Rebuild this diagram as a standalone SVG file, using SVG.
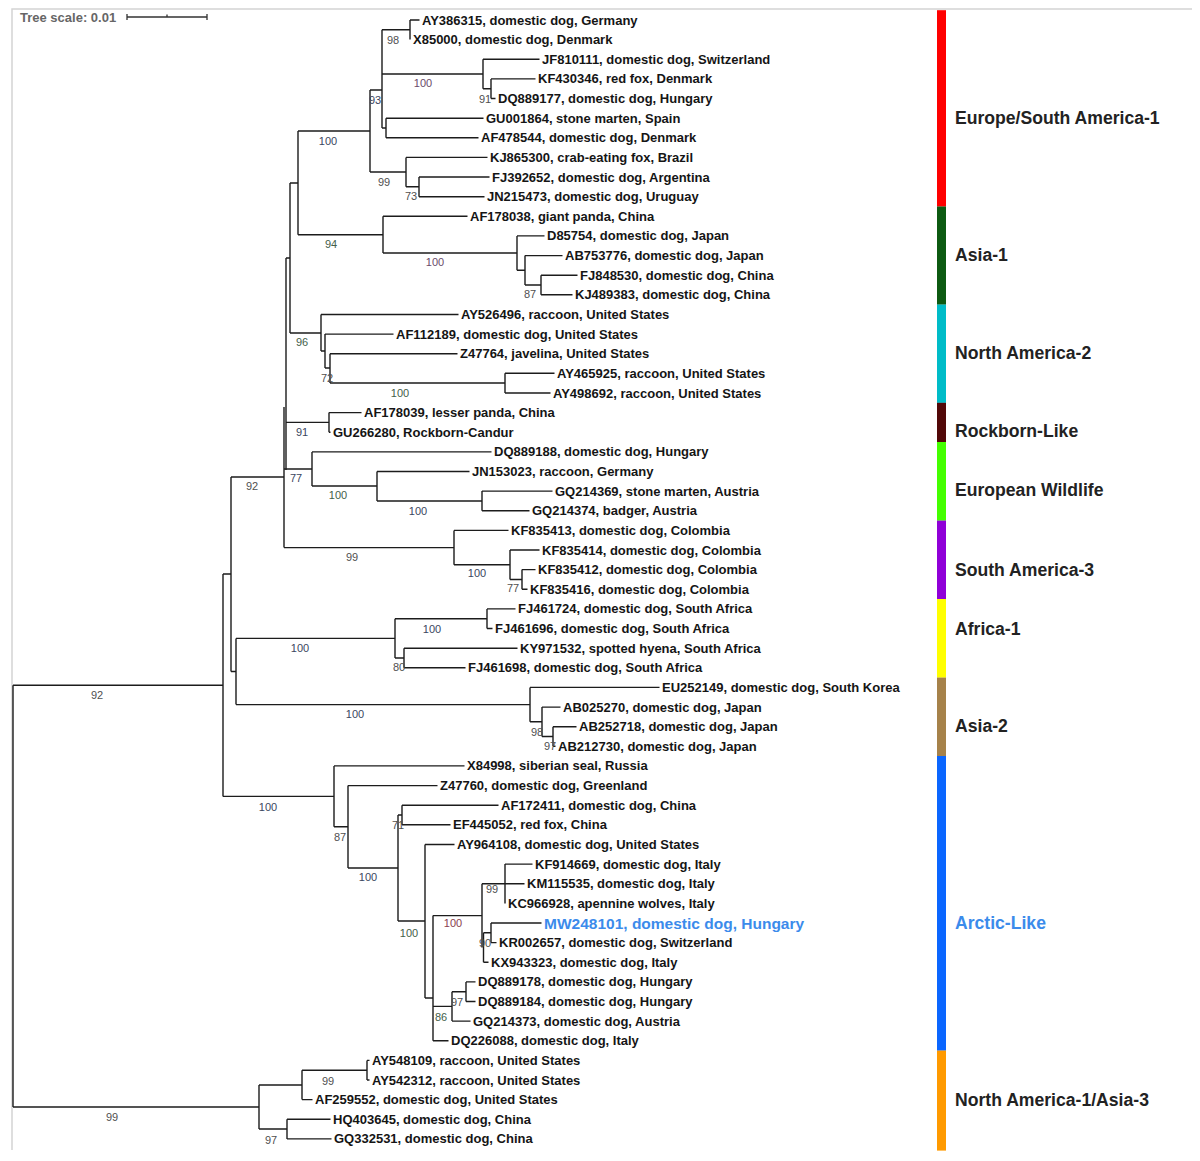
<svg xmlns="http://www.w3.org/2000/svg" width="1200" height="1161" viewBox="0 0 1200 1161">
<style>
.br{fill:none;stroke:#1c1c1c;stroke-width:1.4}
.lf{font-family:"Liberation Sans",Arial,sans-serif;font-size:13px;font-weight:bold;fill:#151515}
.hl{font-family:"Liberation Sans",Arial,sans-serif;font-size:15.5px;font-weight:bold;fill:#3b8beb}
.bs{font-family:"Liberation Sans",Arial,sans-serif;font-size:11px;fill:#505050;text-anchor:middle}
.g{fill:#44604a}.p{fill:#6a4a6a}.b{fill:#3a4660}.r{fill:#8a4050}
.cl{font-family:"Liberation Sans",Arial,sans-serif;font-size:17.6px;font-weight:bold;fill:#222}
.frame{stroke:#d4d4d4;stroke-width:1.5;fill:none}
</style>
<rect width="1200" height="1161" fill="#fff"/>
<path class="frame" d="M12,1150 V9 H1192"/>
<g id="scale">
<text x="20" y="21.5" style="font-family:'Liberation Sans',Arial,sans-serif;font-size:13px;font-weight:bold;fill:#666">Tree scale: 0.01</text>
<path d="M127,17 H207 M127,14 V20 M207,14 V20 M167,14.5 V17" stroke="#333" stroke-width="1.3" fill="none"/>
</g>
<g id="connectors" class="br">
<path d="M410,20 V39.6 M410,20 H419.5"/>
<path d="M491,78.9 V98.5 M491,78.9 H535.5 M491,98.5 H495.5"/>
<path d="M483,59.3 V88.7 M483,59.3 H539.5 M483,88.7 H491"/>
<path d="M386,118.2 V137.8 M386,118.2 H483.5 M386,137.8 H478.5"/>
<path d="M382,29.8 V128 M382,29.8 H410 M382,74 H483 M382,128 H386"/>
<path d="M419,177 V196.7 M419,177 H489.5 M419,196.7 H484.5"/>
<path d="M406,157.4 V186.8 M406,157.4 H487.5 M406,186.8 H419"/>
<path d="M370,90 V172 M370,90 H382 M370,172 H406"/>
<path d="M541,275.2 V294.8 M541,275.2 H577.5 M541,294.8 H572.5"/>
<path d="M525,255.6 V285 M525,255.6 H562.5 M525,285 H541"/>
<path d="M517,235.9 V270.3 M517,235.9 H544.5 M517,270.3 H525"/>
<path d="M383,216.3 V253 M383,216.3 H467.5 M383,253 H517"/>
<path d="M298,131 V234.7 M298,131 H370 M298,234.7 H383"/>
<path d="M505,373.3 V393 M505,373.3 H554.5 M505,393 H550.5"/>
<path d="M330,353.7 V383 M330,353.7 H457.5 M330,383 H505"/>
<path d="M325,334.1 V368 M325,334.1 H393.5 M325,368 H330"/>
<path d="M321,314.5 V351 M321,314.5 H458.5 M321,351 H325"/>
<path d="M290,183 V333 M290,183 H298 M290,333 H321"/>
<path d="M329,412.6 V432.2 M329,412.6 H361.5 M329,432.2 H330.5"/>
<path d="M482,491.1 V510.8 M482,491.1 H552.5 M482,510.8 H529.5"/>
<path d="M377,471.5 V501 M377,471.5 H469.5 M377,501 H482"/>
<path d="M312,451.9 V486 M312,451.9 H491.5 M312,486 H377"/>
<path d="M522,569.6 V589.3 M522,569.6 H535.5 M522,589.3 H527.5"/>
<path d="M510,550 V579.5 M510,550 H539.5 M510,579.5 H522"/>
<path d="M454,530.4 V564.7 M454,530.4 H508.5 M454,564.7 H510"/>
<path d="M286,258 V470 M286,258 H290 M286,422.4 H329"/>
<path d="M284,407 V547.6 M284,469 H312 M284,547.6 H454"/>
<path d="M487,608.9 V628.5 M487,608.9 H515.5 M487,628.5 H492.5"/>
<path d="M404,648.2 V667.8 M404,648.2 H517.5 M404,667.8 H465.5"/>
<path d="M395,618.7 V658 M395,618.7 H487 M395,658 H404"/>
<path d="M553,726.7 V746.3 M553,726.7 H576.5 M553,746.3 H555.5"/>
<path d="M542,707.1 V736.5 M542,707.1 H560.5 M542,736.5 H553"/>
<path d="M530,687.4 V721.8 M530,687.4 H659.5 M530,721.8 H542"/>
<path d="M236,638.4 V704.6 M236,638.4 H395 M236,704.6 H530"/>
<path d="M231,477 V671.5 M231,477 H284 M231,671.5 H236"/>
<path d="M402,805.2 V824.8 M402,805.2 H498.5 M402,824.8 H450.5"/>
<path d="M505,864.1 V903.4 M505,864.1 H532.5 M505,883.7 H524.5"/>
<path d="M491,923 V942.6 M491,923 H541.5 M491,942.6 H496.5"/>
<path d="M483.5,932.8 V962.2 M483.5,932.8 H491 M483.5,962.2 H488.5"/>
<path d="M482,883.7 V947.5 M482,883.7 H505"/>
<path d="M466,981.9 V1001.5 M466,981.9 H475.5 M466,1001.5 H475.5"/>
<path d="M452,991.7 V1021.1 M452,991.7 H466 M452,1021.1 H470.5"/>
<path d="M433,915.6 V1040.8 M433,915.6 H482 M433,1006.4 H452 M433,1040.8 H448.5"/>
<path d="M425,844.5 V998 M425,844.5 H454.5 M425,998 H433"/>
<path d="M398,815 V921 M398,815 H402 M398,921 H425"/>
<path d="M348,785.6 V868 M348,785.6 H437.5 M348,868 H398"/>
<path d="M334,765.9 V826.8 M334,765.9 H464.5 M334,826.8 H348"/>
<path d="M223,574 V796.4 M223,574 H231 M223,796.4 H334"/>
<path d="M367,1060.4 V1080 M367,1060.4 H369.5 M367,1080 H369.5"/>
<path d="M302,1070.2 V1099.6 M302,1070.2 H367 M302,1099.6 H312.5"/>
<path d="M287,1119.3 V1138.9 M287,1119.3 H330.5 M287,1138.9 H331.5"/>
<path d="M259,1085 V1129 M259,1085 H302 M259,1129 H287"/>
<path d="M13,685.2 V1107 M13,685.2 H223 M13,1107 H259"/>
</g>
<g id="leaves">
<g id="n1"><text class="lf" x="422" y="24.5">AY386315, domestic dog, Germany</text></g>
<g id="n2"><text class="lf" x="413" y="44.1">X85000, domestic dog, Denmark</text></g>
<g id="n3"><text class="lf" x="542" y="63.8">JF810111, domestic dog, Switzerland</text></g>
<g id="n4"><text class="lf" x="538" y="83.4">KF430346, red fox, Denmark</text></g>
<g id="n5"><text class="lf" x="498" y="103">DQ889177, domestic dog, Hungary</text></g>
<g id="n6"><text class="lf" x="486" y="122.7">GU001864, stone marten, Spain</text></g>
<g id="n7"><text class="lf" x="481" y="142.3">AF478544, domestic dog, Denmark</text></g>
<g id="n8"><text class="lf" x="490" y="161.9">KJ865300, crab-eating fox, Brazil</text></g>
<g id="n9"><text class="lf" x="492" y="181.5">FJ392652, domestic dog, Argentina</text></g>
<g id="n10"><text class="lf" x="487" y="201.2">JN215473, domestic dog, Uruguay</text></g>
<g id="n11"><text class="lf" x="470" y="220.8">AF178038, giant panda, China</text></g>
<g id="n12"><text class="lf" x="547" y="240.4">D85754, domestic dog, Japan</text></g>
<g id="n13"><text class="lf" x="565" y="260.1">AB753776, domestic dog, Japan</text></g>
<g id="n14"><text class="lf" x="580" y="279.7">FJ848530, domestic dog, China</text></g>
<g id="n15"><text class="lf" x="575" y="299.3">KJ489383, domestic dog, China</text></g>
<g id="n16"><text class="lf" x="461" y="319">AY526496, raccoon, United States</text></g>
<g id="n17"><text class="lf" x="396" y="338.6">AF112189, domestic dog, United States</text></g>
<g id="n18"><text class="lf" x="460" y="358.2">Z47764, javelina, United States</text></g>
<g id="n19"><text class="lf" x="557" y="377.8">AY465925, raccoon, United States</text></g>
<g id="n20"><text class="lf" x="553" y="397.5">AY498692, raccoon, United States</text></g>
<g id="n21"><text class="lf" x="364" y="417.1">AF178039, lesser panda, China</text></g>
<g id="n22"><text class="lf" x="333" y="436.7">GU266280, Rockborn-Candur</text></g>
<g id="n23"><text class="lf" x="494" y="456.4">DQ889188, domestic dog, Hungary</text></g>
<g id="n24"><text class="lf" x="472" y="476">JN153023, raccoon, Germany</text></g>
<g id="n25"><text class="lf" x="555" y="495.6">GQ214369, stone marten, Austria</text></g>
<g id="n26"><text class="lf" x="532" y="515.3">GQ214374, badger, Austria</text></g>
<g id="n27"><text class="lf" x="511" y="534.9">KF835413, domestic dog, Colombia</text></g>
<g id="n28"><text class="lf" x="542" y="554.5">KF835414, domestic dog, Colombia</text></g>
<g id="n29"><text class="lf" x="538" y="574.1">KF835412, domestic dog, Colombia</text></g>
<g id="n30"><text class="lf" x="530" y="593.8">KF835416, domestic dog, Colombia</text></g>
<g id="n31"><text class="lf" x="518" y="613.4">FJ461724, domestic dog, South Africa</text></g>
<g id="n32"><text class="lf" x="495" y="633">FJ461696, domestic dog, South Africa</text></g>
<g id="n33"><text class="lf" x="520" y="652.7">KY971532, spotted hyena, South Africa</text></g>
<g id="n34"><text class="lf" x="468" y="672.3">FJ461698, domestic dog, South Africa</text></g>
<g id="n35"><text class="lf" x="662" y="691.9">EU252149, domestic dog, South Korea</text></g>
<g id="n36"><text class="lf" x="563" y="711.6">AB025270, domestic dog, Japan</text></g>
<g id="n37"><text class="lf" x="579" y="731.2">AB252718, domestic dog, Japan</text></g>
<g id="n38"><text class="lf" x="558" y="750.8">AB212730, domestic dog, Japan</text></g>
<g id="n39"><text class="lf" x="467" y="770.4">X84998, siberian seal, Russia</text></g>
<g id="n40"><text class="lf" x="440" y="790.1">Z47760, domestic dog, Greenland</text></g>
<g id="n41"><text class="lf" x="501" y="809.7">AF172411, domestic dog, China</text></g>
<g id="n42"><text class="lf" x="453" y="829.3">EF445052, red fox, China</text></g>
<g id="n43"><text class="lf" x="457" y="849">AY964108, domestic dog, United States</text></g>
<g id="n44"><text class="lf" x="535" y="868.6">KF914669, domestic dog, Italy</text></g>
<g id="n45"><text class="lf" x="527" y="888.2">KM115535, domestic dog, Italy</text></g>
<g id="n46"><text class="lf" x="508" y="907.9">KC966928, apennine wolves, Italy</text></g>
<g id="n47"><text class="hl" x="544" y="928.5">MW248101, domestic dog, Hungary</text></g>
<g id="n48"><text class="lf" x="499" y="947.1">KR002657, domestic dog, Switzerland</text></g>
<g id="n49"><text class="lf" x="491" y="966.7">KX943323, domestic dog, Italy</text></g>
<g id="n50"><text class="lf" x="478" y="986.4">DQ889178, domestic dog, Hungary</text></g>
<g id="n51"><text class="lf" x="478" y="1006">DQ889184, domestic dog, Hungary</text></g>
<g id="n52"><text class="lf" x="473" y="1025.6">GQ214373, domestic dog, Austria</text></g>
<g id="n53"><text class="lf" x="451" y="1045.3">DQ226088, domestic dog, Italy</text></g>
<g id="n54"><text class="lf" x="372" y="1064.9">AY548109, raccoon, United States</text></g>
<g id="n55"><text class="lf" x="372" y="1084.5">AY542312, raccoon, United States</text></g>
<g id="n56"><text class="lf" x="315" y="1104.1">AF259552, domestic dog, United States</text></g>
<g id="n57"><text class="lf" x="333" y="1123.8">HQ403645, domestic dog, China</text></g>
<g id="n58"><text class="lf" x="334" y="1143.4">GQ332531, domestic dog, China</text></g>
</g>
<g id="bootstrap">
<text class="bs" x="393" y="44">98</text>
<text class="bs p" x="423" y="87">100</text>
<text class="bs" x="485" y="103">91</text>
<text class="bs b" x="375" y="104">93</text>
<text class="bs b" x="328" y="145">100</text>
<text class="bs" x="384" y="186">99</text>
<text class="bs" x="411" y="200">73</text>
<text class="bs g" x="331" y="248">94</text>
<text class="bs p" x="435" y="266">100</text>
<text class="bs" x="530" y="298">87</text>
<text class="bs g" x="302" y="346">96</text>
<text class="bs" x="327" y="382">72</text>
<text class="bs g" x="400" y="397">100</text>
<text class="bs b" x="302" y="436">91</text>
<text class="bs b" x="296" y="482">77</text>
<text class="bs g" x="338" y="499">100</text>
<text class="bs b" x="418" y="515">100</text>
<text class="bs" x="252" y="490">92</text>
<text class="bs" x="352" y="561">99</text>
<text class="bs b" x="477" y="577">100</text>
<text class="bs" x="513" y="592">77</text>
<text class="bs b" x="432" y="633">100</text>
<text class="bs b" x="300" y="652">100</text>
<text class="bs" x="399" y="671">80</text>
<text class="bs b" x="355" y="718">100</text>
<text class="bs" x="537" y="736">98</text>
<text class="bs" x="550" y="750">97</text>
<text class="bs" x="97" y="699">92</text>
<text class="bs b" x="268" y="811">100</text>
<text class="bs" x="340" y="841">87</text>
<text class="bs" x="398" y="829">71</text>
<text class="bs b" x="368" y="881">100</text>
<text class="bs g" x="409" y="937">100</text>
<text class="bs r" x="453" y="927">100</text>
<text class="bs" x="492" y="893">99</text>
<text class="bs" x="485" y="947">90</text>
<text class="bs" x="457" y="1006">97</text>
<text class="bs g" x="441" y="1021">86</text>
<text class="bs" x="328" y="1085">99</text>
<text class="bs" x="112" y="1121">99</text>
<text class="bs" x="271" y="1144">97</text>
</g>
<g id="clades">
<rect x="937" y="10.2" width="9" height="196.4" fill="#ff0000"/>
<rect x="937" y="206.5" width="9" height="98.2" fill="#0d5a12"/>
<rect x="937" y="304.6" width="9" height="98.3" fill="#00bcc8"/>
<rect x="937" y="402.8" width="9" height="39.3" fill="#520808"/>
<rect x="937" y="442" width="9" height="78.7" fill="#44ff00"/>
<rect x="937" y="520.6" width="9" height="78.5" fill="#9000d8"/>
<rect x="937" y="599" width="9" height="78.7" fill="#ffff00"/>
<rect x="937" y="677.6" width="9" height="78.5" fill="#a6824a"/>
<rect x="937" y="756" width="9" height="294.7" fill="#0a66ff"/>
<rect x="937" y="1050.6" width="9" height="100" fill="#ff9a00"/>
<text class="cl" x="955" y="124">Europe/South America-1</text>
<text class="cl" x="955" y="261">Asia-1</text>
<text class="cl" x="955" y="359">North America-2</text>
<text class="cl" x="955" y="437">Rockborn-Like</text>
<text class="cl" x="955" y="496">European Wildlife</text>
<text class="cl" x="955" y="576">South America-3</text>
<text class="cl" x="955" y="635">Africa-1</text>
<text class="cl" x="955" y="732">Asia-2</text>
<text class="cl" x="955" y="929" style="fill:#3b8beb">Arctic-Like</text>
<text class="cl" x="955" y="1106">North America-1/Asia-3</text>
</g>
</svg>
